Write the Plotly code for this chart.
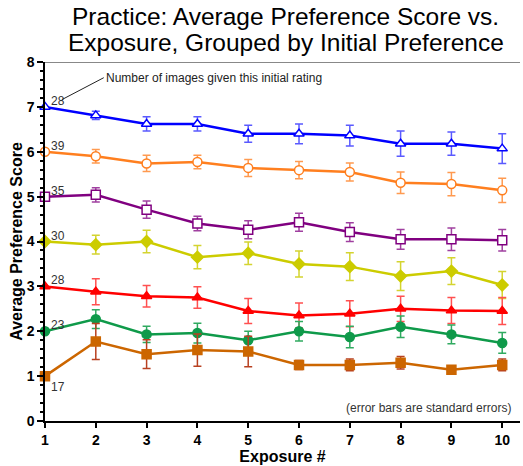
import plotly.graph_objects as go

exposure = list(range(1, 11))

# Mean preference score per exposure, grouped by the initial rating (1-7)
rating7 = [7.00, 6.81, 6.62, 6.62, 6.40, 6.40, 6.36, 6.18, 6.18, 6.07]
rating7_se = [0, 0.09, 0.16, 0.16, 0.19, 0.22, 0.23, 0.28, 0.26, 0.33]
rating6 = [6.00, 5.90, 5.74, 5.77, 5.64, 5.59, 5.55, 5.31, 5.28, 5.14]
rating6_se = [0, 0.15, 0.18, 0.15, 0.19, 0.19, 0.20, 0.24, 0.26, 0.27]
rating5 = [5.00, 5.04, 4.71, 4.40, 4.26, 4.43, 4.21, 4.05, 4.05, 4.03]
rating5_se = [0, 0.16, 0.19, 0.16, 0.20, 0.20, 0.21, 0.22, 0.25, 0.24]
rating4 = [4.00, 3.93, 4.00, 3.65, 3.74, 3.50, 3.44, 3.23, 3.34, 3.03]
rating4_se = [0, 0.21, 0.25, 0.26, 0.25, 0.29, 0.31, 0.32, 0.30, 0.30]
rating3 = [3.00, 2.88, 2.78, 2.75, 2.45, 2.35, 2.39, 2.50, 2.46, 2.45]
rating3_se = [0, 0.29, 0.24, 0.24, 0.28, 0.28, 0.29, 0.28, 0.29, 0.30]
rating2 = [2.00, 2.27, 1.93, 1.96, 1.80, 2.00, 1.87, 2.10, 1.93, 1.74]
rating2_se = [0, 0.21, 0.18, 0.22, 0.20, 0.22, 0.24, 0.24, 0.21, 0.23]
rating1 = [1.00, 1.77, 1.49, 1.58, 1.55, 1.25, 1.25, 1.30, 1.14, 1.25]
rating1_se = [0, 0.40, 0.32, 0.36, 0.34, 0.10, 0.13, 0.14, 0.05, 0.13]

# Number of images given each initial rating
counts = [28, 39, 35, 30, 28, 23, 17]

title_lines = ["Practice: Average Preference Score vs.",
               "Exposure, Grouped by Initial Preference"]

series = [
    (rating7, rating7_se, "#0000ff", "#5a5aff", "triangle-up", True),
    (rating6, rating6_se, "#ff7f1f", "#ff9a50", "circle", True),
    (rating5, rating5_se, "#800080", "#a040a0", "square", True),
    (rating4, rating4_se, "#cccc00", "#d4d430", "diamond", False),
    (rating3, rating3_se, "#ff0000", "#ff5050", "triangle-up", False),
    (rating2, rating2_se, "#0f9a4a", "#30aa60", "circle", False),
    (rating1, rating1_se, "#cc6600", "#b84020", "square", False),
]

FONT = "Liberation Sans, Arial"

fig = go.Figure()
for vals, se, col, ecol, sym, hollow in series:
    fig.add_trace(go.Scatter(
        x=exposure, y=vals, mode="lines+markers",
        line=dict(color=col, width=2.5),
        marker=dict(symbol=sym, size=9,
                    color="white" if hollow else col,
                    line=dict(color=col, width=1.5)),
        error_y=dict(type="data", array=se, color=ecol, thickness=1.5, width=4),
        cliponaxis=False, showlegend=False,
    ))

annotations = []
for i, ((vals, se, col, ecol, sym, hollow), n) in enumerate(zip(series, counts)):
    below = i == len(series) - 1
    annotations.append(dict(
        x=1, y=vals[0], xref="x", yref="y", text=str(n), showarrow=False,
        xanchor="left", yanchor="top" if below else "bottom",
        xshift=4, yshift=-2 if below else -3,
        font=dict(family=FONT, size=12, color="#333333"),
    ))

annotations.append(dict(
    x=1.33, y=7.16, xref="x", yref="y", ax=42, ay=-22,
    text="Number of images given this initial rating", showarrow=True,
    arrowhead=0, arrowwidth=1, arrowcolor="#222222", xanchor="left",
    font=dict(family=FONT, size=12, color="#222222"),
))
annotations.append(dict(
    x=0.985, y=0.29, xref="paper", yref="y", xanchor="right", showarrow=False,
    text="(error bars are standard errors)",
    font=dict(family=FONT, size=12, color="#333333"),
))

# Two-line chart heading, each line placed on its own
for line_text, ypos in zip(title_lines, [1.127, 1.054]):
    annotations.append(dict(
        x=0.507, y=ypos, xref="paper", yref="paper", xanchor="center",
        yanchor="middle", showarrow=False, text=line_text,
        font=dict(family=FONT, size=24.5, color="black"),
    ))

fig.update_layout(
    width=523, height=466,
    margin=dict(l=45, r=3, t=62, b=40),
    paper_bgcolor="white", plot_bgcolor="white",
    annotations=annotations,
    shapes=[dict(type="line", xref="paper", yref="y", x0=0, x1=1, y0=8, y1=8,
                 line=dict(color="#888888", width=2))],
    font=dict(family=FONT, color="black"),
)

fig.update_xaxes(
    range=[1, 10.35], tickvals=exposure, ticks="outside", ticklen=5,
    tickwidth=1.5, tickcolor="black", showline=True, linecolor="black",
    linewidth=1.5, showgrid=False, zeroline=False,
    tickfont=dict(family=FONT, size=14, color="black", weight="bold"),
    title=dict(text="Exposure #", standoff=4,
               font=dict(family=FONT, size=16, color="black", weight="bold")),
)
fig.update_yaxes(
    range=[0, 8], dtick=1, ticks="outside", ticklen=6, tickwidth=1.5,
    tickcolor="black", showline=True, linecolor="black", linewidth=1.5,
    showgrid=False, zeroline=False,
    minor=dict(dtick=0.2, ticks="outside", ticklen=3, tickcolor="black", showgrid=False),
    tickfont=dict(family=FONT, size=14, color="black", weight="bold"),
    title=dict(text="Average Preference Score", standoff=0,
               font=dict(family=FONT, size=16, color="black", weight="bold")),
)

fig.write_html("out.html")
